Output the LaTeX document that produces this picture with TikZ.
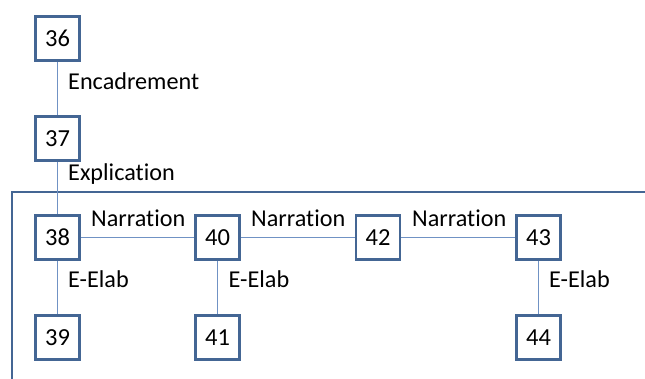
\documentclass[tikz,border=0pt]{standalone}
\usepackage{fontspec}
\setmainfont{Carlito}[Ligatures=NoCommon]
\definecolor{boxblue}{RGB}{68,102,148}
\definecolor{linkblue}{RGB}{112,146,196}
\begin{document}
\begin{tikzpicture}[
  x=1pt, y=1pt,
  seg/.style={rectangle, draw=boxblue, line width=2.4pt, fill=white,
    minimum size=44pt, inner sep=0pt, font=\fontsize{24.5}{28}\selectfont},
  rel/.style={anchor=base west, inner sep=1pt,
    font=\fontsize{24.2}{28}\selectfont},
  link/.style={draw=linkblue, line width=1.2pt},
  frame/.style={draw=boxblue, line width=2.4pt},
]
\useasboundingbox (0,0) rectangle (645,379);

% discourse segments
\node[seg] (s36) at (57.5, 340.5) {36};
\node[seg] (s37) at (57.5, 240.5) {37};
\node[seg] (s38) at (57.5, 141.5) {38};
\node[seg] (s39) at (57.5, 41.5) {39};
\node[seg] (s40) at (217.5, 141.5) {40};
\node[seg] (s41) at (217.5, 41.5) {41};
\node[seg] (s42) at (378, 141.5) {42};
\node[seg] (s43) at (538.5, 141.5) {43};
\node[seg] (s44) at (538.5, 41.5) {44};

% frame round the narration
\coordinate (fbot) at (12, 0);
\coordinate (fend) at (645, 187);
\draw[frame] (fbot) |- (fend);

% relations
\draw[link] (s36) -- (s37);
\draw[link] (s37) -- (s38);
\draw[link] (s38) -- (s40);
\draw[link] (s40) -- (s42);
\draw[link] (s42) -- (s43);
\draw[link] (s38) -- (s39);
\draw[link] (s40) -- (s41);
\draw[link] (s43) -- (s44);

\node[rel] (r1) at (67, 289) {Encadrement};
\node[rel] (r2) at (67, 198) {Explication};
\node[rel] (n1) at (90, 152.5) {Narration};
\node[rel] (n2) at (250, 152.5) {Narration};
\node[rel] (n3) at (411, 152.5) {Narration};
\node[rel] (e1) at (67, 91) {E-Elab};
\node[rel] (e2) at (227.5, 91) {E-Elab};
\node[rel] (e3) at (548, 91) {E-Elab};

\end{tikzpicture}
\end{document}
